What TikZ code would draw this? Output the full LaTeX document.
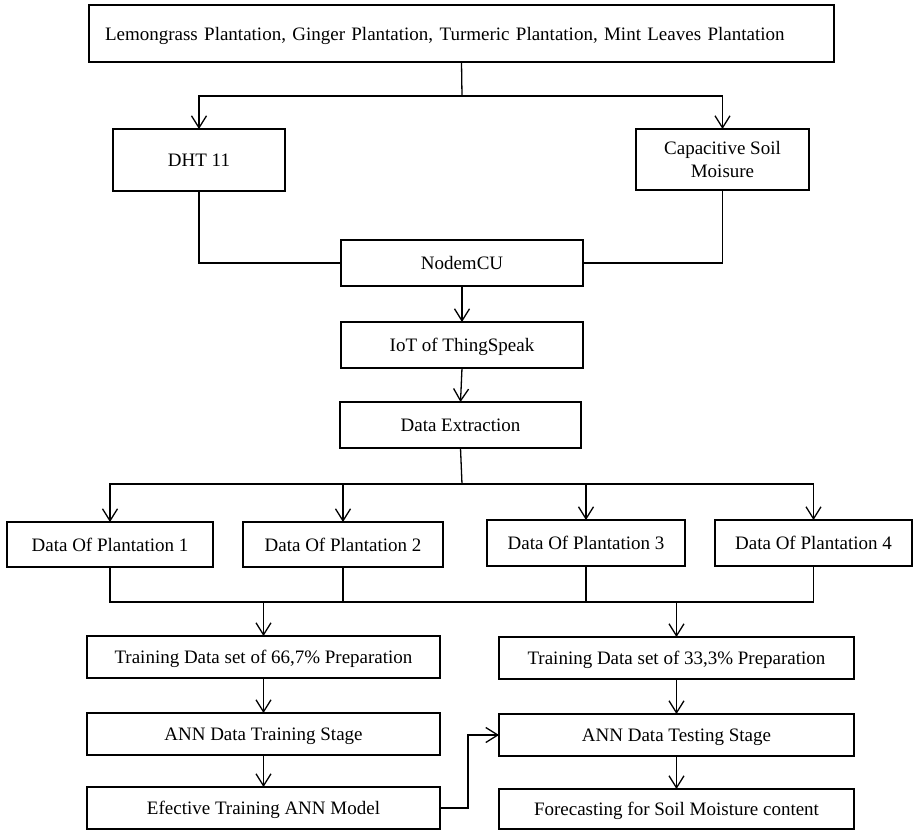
\documentclass[tikz,border=0pt]{standalone}
\usepackage{fontspec}
\setmainfont{Liberation Serif}
\usetikzlibrary{arrows.meta}

\tikzset{
  box/.style={draw, line width=2.6pt, rectangle, inner sep=0pt, outer sep=0pt,
    align=center, text depth=0pt, font=\fontsize{19}{23}\selectfont},
  link/.style={line width=1.3pt},
  arr/.style={link, -{Straight Barb[length=12pt,width=15pt,line width=1.3pt]}}
}

\begin{document}
\begin{tikzpicture}[x=1pt,y=-1pt]
\useasboundingbox (0,0) rectangle (914,831);

% source plantations
\node[box, text width=713pt, inner xsep=16pt, minimum height=57pt, align=left]
  (top) at (461.5,33.5) {Lemongrass Plantation, Ginger Plantation, Turmeric Plantation, Mint Leaves Plantation};

% sensors
\node[box, minimum width=172pt, minimum height=62pt] (dht) at (199,160) {DHT 11};
\node[box, minimum width=173pt, minimum height=61pt] (cap) at (722.5,159.5) {Capacitive Soil\\Moisure};

% acquisition chain
\node[box, minimum width=242pt, minimum height=46pt] (mcu) at (462,263) {NodemCU};
\node[box, minimum width=242pt, minimum height=46pt] (iot) at (462,345) {IoT of ThingSpeak};
\node[box, minimum width=241pt, minimum height=46pt] (ext) at (460.5,425) {Data Extraction};

% per-plantation data
\node[box, minimum width=206pt, minimum height=45pt] (dp1) at (110,544.5) {Data Of Plantation 1};
\node[box, minimum width=200pt, minimum height=45pt] (dp2) at (343,544.5) {Data Of Plantation 2};
\node[box, minimum width=198pt, minimum height=46pt] (dp3) at (586,543) {Data Of Plantation 3};
\node[box, minimum width=197pt, minimum height=46pt] (dp4) at (813.5,543) {Data Of Plantation 4};

% training branch
\node[box, minimum width=353pt, minimum height=42pt] (tra) at (263.5,657) {Training Data set of 66,7\% Preparation};
\node[box, minimum width=353pt, minimum height=42pt] (annA) at (263.5,734) {ANN Data Training Stage};
\node[box, minimum width=353pt, minimum height=42pt] (eff) at (263.5,808) {Efective Training ANN Model};

% testing branch
\node[box, minimum width=355pt, minimum height=42pt] (trb) at (676.5,658) {Training Data set of 33,3\% Preparation};
\node[box, minimum width=355pt, minimum height=42pt] (annB) at (676.5,735) {ANN Data Testing Stage};
\node[box, minimum width=355pt, minimum height=40pt] (fore) at (676.5,809) {Forecasting for Soil Moisture content};

% split to sensors
\coordinate (j1) at (462,96);
\draw[link] (top.south) -- (j1);
\draw[arr] (j1) -| (dht.north);
\draw[arr] (j1) -| (cap.north);

% sensors into NodeMCU
\draw[link] (dht.south) |- (mcu.west);
\draw[link] (cap.south) |- (mcu.east);

\draw[arr] (mcu.south) -- (iot.north);
\draw[arr] (iot.south) -- (ext.north);

% split to plantations
\coordinate (j2) at (462,484);
\draw[link] (ext.south) -- (j2);
\draw[arr] (j2) -| (dp1.north);
\draw[arr] (j2) -| (dp2.north);
\draw[arr] (j2) -| (dp3.north);
\draw[arr] (j2) -| (dp4.north);

% merge of plantation data
\coordinate (b) at (0,602);
\draw[link] (dp1.south) -- (dp1.south |- b) -- (dp4.south |- b) -- (dp4.south);
\draw[link] (dp2.south) -- (dp2.south |- b);
\draw[link] (dp3.south) -- (dp3.south |- b);
\draw[arr] (tra.north |- b) -- (tra.north);
\draw[arr] (trb.north |- b) -- (trb.north);

% stages
\draw[arr] (tra.south) -- (annA.north);
\draw[arr] (annA.south) -- (eff.north);
\draw[arr] (trb.south) -- (annB.north);
\draw[arr] (annB.south) -- (fore.north);
\draw[arr] (eff.east) -- ++(28,0) |- (annB.west);
\end{tikzpicture}
\end{document}
